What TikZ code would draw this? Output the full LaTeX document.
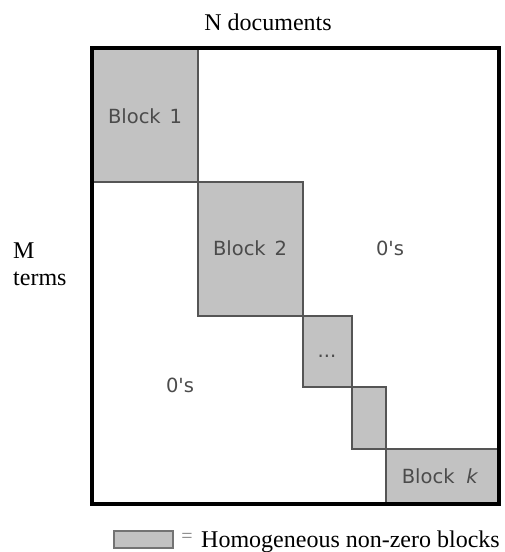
\documentclass[tikz,border=0pt]{standalone}
\usepackage{fontspec}
\setmainfont{Liberation Serif}
\newfontfamily\blockfont{DejaVu Sans}
\definecolor{blockfill}{RGB}{194,194,194}
\definecolor{blockedge}{RGB}{85,85,85}
\definecolor{blocktext}{RGB}{75,75,75}
\tikzset{
  blk/.style={fill=blockfill, draw=blockedge, line width=1.6pt},
  frame/.style={draw=black, line width=3.6pt},
  btext/.style={font=\blockfont\fontsize{19.5}{22}\selectfont, text=blocktext, inner sep=0pt},
  stext/.style={font=\fontsize{24}{28}\selectfont, inner sep=0pt}
}
\begin{document}
\begin{tikzpicture}[x=1pt,y=-1pt]
\useasboundingbox (0,0) rectangle (505,552);
% blocks
\draw[blk] (92,48) rectangle (198,182);
\draw[blk] (198,182) rectangle (303,316);
\draw[blk] (303,316) rectangle (352,387);
\draw[blk] (352,387) rectangle (386,449);
\draw[blk] (386,449) rectangle (499,504);
% frame
\draw[frame] (92,48) rectangle (499,504);
% block labels
\node[btext] (b1) at (145,116) {Block\hspace{0.45em}1};
\node[btext] (b2) at (250,248) {Block\hspace{0.45em}2};
\node[btext] (b3) at (327,356) {...};
\node[btext] (bk) at (440,476) {Block\hspace{0.6em}\textit{k}};
\node[btext] (z1) at (390,248) {0's};
\node[btext] (z2) at (180,385) {0's};
% outside labels
\node[stext, anchor=base] (n) at (268,30) {N documents};
\node[stext, anchor=base west] (m) at (13,258) {M};
\node[stext, anchor=base west] (t) at (13,285) {terms};
% legend
\draw[fill=blockfill, draw=gray!90!black, line width=2pt] (114,531) rectangle (173,548);
\node[font=\fontsize{20}{22}\selectfont, text=gray, inner sep=0pt] (eq) at (187,538) {=};
\node[stext, anchor=base west] (leg) at (201,547) {Homogeneous non-zero blocks};
\end{tikzpicture}
\end{document}
